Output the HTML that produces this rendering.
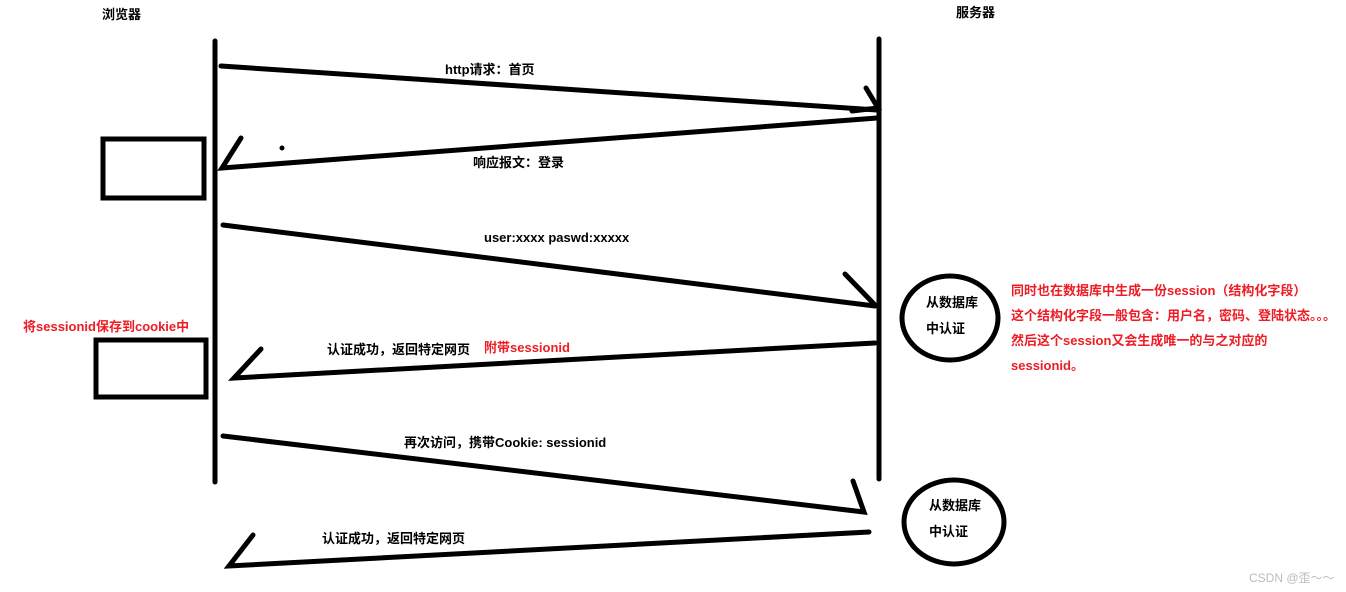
<!DOCTYPE html>
<html><head><meta charset="utf-8"><style>
html,body{margin:0;padding:0;background:#fff;}
svg{display:block;}
text{font-family:"Liberation Sans","Noto Sans CJK SC",sans-serif;font-size:13px;font-weight:bold;fill:#000;}
.r{fill:#ee1c24;}
</style></head><body>
<svg width="1346" height="592" viewBox="0 0 1346 592" xmlns="http://www.w3.org/2000/svg">
<g stroke="#000" stroke-width="5" stroke-linecap="round" fill="none">
<line x1="215" y1="41" x2="215" y2="482"/>
<line x1="879" y1="39" x2="879" y2="479"/>
<polyline points="221,66 877,110"/>
<polyline points="866,88 878,108 852,111"/>
<polyline points="877,118 222,168 241,138"/>
<polyline points="223,225 875,306"/>
<polyline points="845,274 875,305"/>
<polyline points="875,343 234,378 261,349"/>
<polyline points="223,436 864,512 853,481"/>
<polyline points="869,532 229,566 253,535"/>
<ellipse cx="950" cy="318" rx="48" ry="42"/>
<ellipse cx="954" cy="522" rx="50" ry="42"/>
</g>
<rect x="103" y="139" width="101" height="59" fill="none" stroke="#000" stroke-width="5"/>
<rect x="96" y="340" width="110" height="57" fill="none" stroke="#000" stroke-width="5"/>
<circle cx="282" cy="148" r="2.5" fill="#000"/>
<text x="102" y="19">浏览器</text>
<text x="956" y="17">服务器</text>
<text x="445" y="74">http请求：首页</text>
<text x="473" y="167">响应报文：登录</text>
<text x="484" y="242">user:xxxx paswd:xxxxx</text>
<text x="926" y="307">从数据库</text>
<text x="926" y="333">中认证</text>
<text x="929" y="510">从数据库</text>
<text x="929" y="536">中认证</text>
<text class="r" x="23" y="331">将sessionid保存到cookie中</text>
<text x="327" y="354">认证成功，返回特定网页</text>
<text class="r" x="484" y="352">附带sessionid</text>
<text x="404" y="447">再次访问，携带Cookie: sessionid</text>
<text x="322" y="543">认证成功，返回特定网页</text>
<text class="r" x="1011" y="295">同时也在数据库中生成一份session（结构化字段）</text>
<text class="r" x="1011" y="320">这个结构化字段一般包含：用户名，密码、登陆状态。。。</text>
<text class="r" x="1011" y="345">然后这个session又会生成唯一的与之对应的</text>
<text class="r" x="1011" y="370">sessionid。</text>
<text x="1249" y="582" style="font-weight:normal;fill:#bbb;font-size:12px">CSDN @歪～～</text>
</svg>
</body></html>
